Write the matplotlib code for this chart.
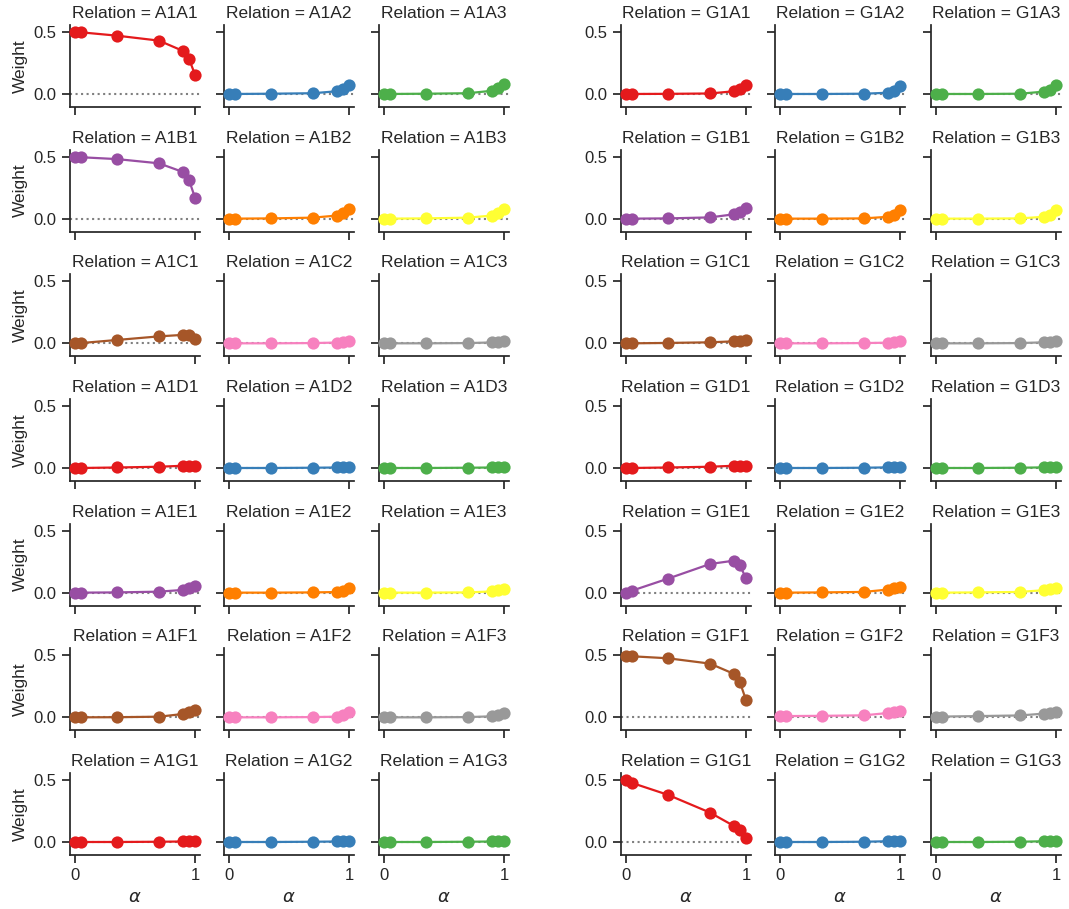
import numpy as np
import matplotlib
matplotlib.use('Agg')
import matplotlib.pyplot as plt
import seaborn as sns

sns.set_theme(style='ticks', context='notebook')
plt.rcParams['font.family'] = ['Liberation Sans', 'DejaVu Sans']

# alpha values on the x axis
alpha = [0, 0.05, 0.35, 0.7, 0.9, 0.95, 1.0]

groups = ['A1', 'G1']
row_keys = ['A1', 'B1', 'C1', 'D1', 'E1', 'F1', 'G1']
col_keys = ['1', '2', '3']

# weights, group A1 (one list of 3 relations per row)
a1_A = [[0.5, 0.497, 0.47, 0.43, 0.347, 0.285, 0.156],
        [0, 0, 0.002, 0.006, 0.022, 0.04, 0.074],
        [0, 0, 0.002, 0.006, 0.026, 0.045, 0.079]]
a1_B = [[0.5, 0.495, 0.48, 0.446, 0.376, 0.312, 0.17],
        [0, 0, 0.002, 0.008, 0.025, 0.045, 0.08],
        [0, 0, 0.002, 0.008, 0.025, 0.045, 0.08]]
a1_C = [[0, 0.002, 0.027, 0.056, 0.068, 0.063, 0.036],
        [0, 0, 0, 0.002, 0.006, 0.011, 0.02],
        [0, 0, 0, 0.002, 0.007, 0.012, 0.019]]
a1_D = [[0, 0, 0.004, 0.01, 0.018, 0.018, 0.015],
        [0, 0, 0, 0.002, 0.004, 0.007, 0.01],
        [0, 0, 0, 0.002, 0.004, 0.007, 0.01]]
a1_E = [[0, 0, 0.002, 0.008, 0.022, 0.035, 0.056],
        [0, 0, 0, 0.002, 0.005, 0.016, 0.035],
        [0, 0, 0, 0.002, 0.01, 0.019, 0.03]]
a1_F = [[0, 0, 0.001, 0.005, 0.027, 0.04, 0.056],
        [0, 0, 0, 0.002, 0.005, 0.019, 0.04],
        [0, 0, 0, 0.002, 0.008, 0.019, 0.035]]
a1_G = [[0, 0, 0, 0.002, 0.004, 0.008, 0.012],
        [0, 0, 0, 0.002, 0.004, 0.008, 0.01],
        [0, 0, 0, 0.002, 0.004, 0.006, 0.008]]

# weights, group G1
g1_A = [[0, 0, 0.001, 0.004, 0.022, 0.04, 0.07],
        [0, 0, 0, 0.002, 0.01, 0.027, 0.067],
        [0, 0, 0, 0.002, 0.019, 0.032, 0.073]]
g1_B = [[0, 0, 0.002, 0.01, 0.035, 0.052, 0.082],
        [0, 0, 0, 0.002, 0.015, 0.03, 0.07],
        [0, 0, 0, 0.002, 0.015, 0.03, 0.07]]
g1_C = [[0, 0, 0.003, 0.008, 0.016, 0.02, 0.024],
        [0, 0, 0, 0.002, 0.005, 0.011, 0.02],
        [0, 0, 0, 0.002, 0.008, 0.01, 0.016]]
g1_D = [[0, 0, 0.004, 0.01, 0.018, 0.018, 0.015],
        [0, 0, 0, 0.002, 0.005, 0.008, 0.01],
        [0, 0, 0, 0.002, 0.005, 0.008, 0.01]]
g1_E = [[0, 0.016, 0.113, 0.231, 0.258, 0.22, 0.116],
        [0, 0, 0.002, 0.006, 0.025, 0.035, 0.045],
        [0, 0, 0.002, 0.006, 0.02, 0.03, 0.04]]
g1_F = [[0.497, 0.492, 0.476, 0.433, 0.35, 0.282, 0.14],
        [0.01, 0.01, 0.012, 0.016, 0.035, 0.045, 0.05],
        [0.005, 0.006, 0.01, 0.015, 0.03, 0.035, 0.04]]
g1_G = [[0.5, 0.476, 0.38, 0.237, 0.129, 0.094, 0.032],
        [0, 0, 0, 0.002, 0.006, 0.01, 0.012],
        [0, 0, 0, 0.002, 0.006, 0.008, 0.01]]

weights = {'A1': [a1_A, a1_B, a1_C, a1_D, a1_E, a1_F, a1_G],
           'G1': [g1_A, g1_B, g1_C, g1_D, g1_E, g1_F, g1_G]}

palette = sns.color_palette('Set1', 9)

W, H = 1069, 909
fig = plt.figure(figsize=(W / 100, H / 100), dpi=100)

col_left = {'A1': [70, 224, 379], 'G1': [621, 775, 931]}
ax_w, ax_h = 130, 82
row_pitch = 124.67

for g in groups:
    for r in range(7):
        for c in range(3):
            left = col_left[g][c]
            top = 25 + r * row_pitch
            ax = fig.add_axes([left / W, 1 - (top + ax_h) / H, ax_w / W, ax_h / H])
            color = palette[(r * 3 + c) % 9]
            ax.axhline(0, color='0.5', ls=':', lw=1.5, zorder=1)
            ax.plot(alpha, weights[g][r][c], '-o', color=color, lw=1.6,
                    ms=8.8, mew=0, zorder=3, clip_on=False)
            ax.set_xlim(-0.042, 1.042)
            ax.set_ylim(-0.105, 0.556)
            ax.set_xticks([0, 1])
            ax.set_yticks([0, 0.5])
            ax.set_yticklabels(['0.0', '0.5'])
            ax.set_xticklabels(['0', '1'])
            sns.despine(ax=ax)
            ax.set_title('Relation = %s%s%s' % (g, row_keys[r][0], col_keys[c]),
                         fontsize=12.5, pad=5, color='0.15')
            if c == 0:
                if g == 'A1':
                    ax.set_ylabel('Weight', fontsize=12.5)
            else:
                ax.tick_params(axis='y', labelleft=False)
            if r == 6:
                ax.set_xlabel(r'$\alpha$', fontsize=13)
            else:
                ax.tick_params(axis='x', labelbottom=False)
            ax.tick_params(labelsize=12)

fig.savefig('out.png', dpi=100)
